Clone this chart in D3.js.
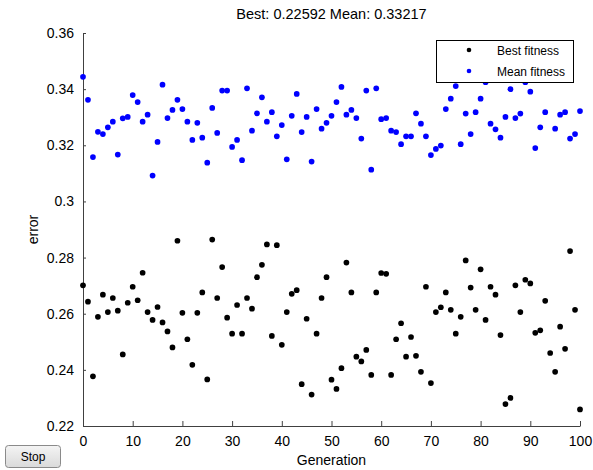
<!DOCTYPE html>
<html>
<head>
<meta charset="utf-8">
<script src="https://cdn.jsdelivr.net/npm/d3@7"></script>
<style>
  html, body { margin: 0; padding: 0; background: #ffffff; }
  svg { display: block; font-family: "Liberation Sans", Arial, sans-serif; }
</style>
</head>
<body>
<svg id="chart" width="593" height="470"></svg>
<script>
const generations = d3.range(0, 101);
const bestFitness = [
  0.2701, 0.2643, 0.2377, 0.2589, 0.2668, 0.2606, 0.2656, 0.2611, 0.2455, 0.2639,
  0.2696, 0.2648, 0.2746, 0.2606, 0.2578, 0.2624, 0.2569, 0.2537, 0.2480, 0.2860,
  0.2603, 0.2509, 0.2418, 0.2603, 0.2676, 0.2366, 0.2864, 0.2656, 0.2766, 0.2586,
  0.2529, 0.2631, 0.2529, 0.2656, 0.2618, 0.2730, 0.2774, 0.2847, 0.2521, 0.2844,
  0.2489, 0.2606, 0.2671, 0.2684, 0.2349, 0.2582, 0.2312, 0.2529, 0.2656, 0.2730,
  0.2365, 0.2332, 0.2406, 0.2782, 0.2676, 0.2447, 0.2430, 0.2471, 0.2382, 0.2676,
  0.2745, 0.2742, 0.2382, 0.2509, 0.2566, 0.2447, 0.2517, 0.2450, 0.2393, 0.2696,
  0.2353, 0.2606, 0.2623, 0.2676, 0.2614, 0.2529, 0.2589, 0.2790, 0.2693, 0.2614,
  0.2758, 0.2578, 0.2696, 0.2668, 0.2524, 0.2278, 0.2300, 0.2701, 0.2606, 0.2721,
  0.2708, 0.2532, 0.2541, 0.2646, 0.2460, 0.2393, 0.2554, 0.2475, 0.2823, 0.2614,
  0.22592
];
const meanFitness = [
  0.3444, 0.3362, 0.3158, 0.3248, 0.3240, 0.3264, 0.3284, 0.3167, 0.3296, 0.3301,
  0.3379, 0.3354, 0.3284, 0.3309, 0.3092, 0.3212, 0.3416, 0.3297, 0.3326, 0.3362,
  0.3329, 0.3284, 0.3219, 0.3280, 0.3227, 0.3138, 0.3333, 0.3244, 0.3395, 0.3395,
  0.3194, 0.3219, 0.3147, 0.3403, 0.3252, 0.3314, 0.3371, 0.3284, 0.3318, 0.3232,
  0.3272, 0.3150, 0.3305, 0.3383, 0.3247, 0.3301, 0.3142, 0.3329, 0.3259, 0.3280,
  0.3305, 0.3354, 0.3408, 0.3309, 0.3326, 0.3297, 0.3224, 0.3395, 0.3113, 0.3403,
  0.3293, 0.3297, 0.3252, 0.3247, 0.3204, 0.3232, 0.3232, 0.3314, 0.3277, 0.3232,
  0.3165, 0.3187, 0.3199, 0.3329, 0.3366, 0.3411, 0.3204, 0.3313, 0.3240, 0.3318,
  0.3366, 0.3425, 0.3277, 0.3257, 0.3227, 0.3301, 0.3400, 0.3297, 0.3313, 0.3425,
  0.3391, 0.3190, 0.3264, 0.3318, 0.3450, 0.3259, 0.3309, 0.3318, 0.3224, 0.3240,
  0.33217
];
const xTicks = [0, 10, 20, 30, 40, 50, 60, 70, 80, 90, 100];
const yTicks = [0.22, 0.24, 0.26, 0.28, 0.3, 0.32, 0.34, 0.36];
const yTickLabels = ["0.22", "0.24", "0.26", "0.28", "0.3", "0.32", "0.34", "0.36"];
const seriesNames = ["Best fitness", "Mean fitness"];
const seriesColors = ["#000000", "#0000ff"];
const titleText = "Best: 0.22592 Mean: 0.33217";
const xLabel = "Generation";
const yLabel = "error";
const buttonLabel = "Stop";

const svg = d3.select("#chart");
const m = { left: 83, right: 580, top: 33, bottom: 426 };
const x = d3.scaleLinear().domain([0, 100]).range([m.left, m.right]);
const y = d3.scaleLinear().domain([0.22, 0.36]).range([m.bottom, m.top]);
const axisColor = "#404040";

// X axis (ticks inside)
const xAxis = d3.axisBottom(x).tickValues(xTicks).tickSizeInner(-5).tickSizeOuter(0).tickPadding(10).tickFormat(d3.format("d"));
const gx = svg.append("g").attr("transform", `translate(0,${m.bottom})`).call(xAxis);
gx.select(".domain").attr("stroke", axisColor);
gx.selectAll(".tick line").attr("stroke", axisColor);
gx.selectAll(".tick text").attr("fill", "#000").style("font-size", "14px")
  .attr("font-family", "Liberation Sans, Arial, sans-serif");

// Y axis (ticks inside)
const yAxis = d3.axisLeft(y).tickValues(yTicks).tickSizeInner(-3).tickSizeOuter(0).tickPadding(9)
  .tickFormat((d, i) => yTickLabels[i]);
const gy = svg.append("g").attr("transform", `translate(${m.left},0)`).call(yAxis);
gy.select(".domain").attr("stroke", axisColor);
gy.selectAll(".tick line").attr("stroke", axisColor);
gy.selectAll(".tick text").attr("fill", "#000").style("font-size", "14px")
  .attr("font-family", "Liberation Sans, Arial, sans-serif");

// Points
const series = [bestFitness, meanFitness];
series.forEach((vals, si) => {
  svg.append("g").selectAll("circle")
    .data(vals)
    .join("circle")
    .attr("cx", (d, i) => x(generations[i]))
    .attr("cy", d => y(d))
    .attr("r", 2.85)
    .attr("fill", seriesColors[si]);
});

// Title
svg.append("text").attr("x", (m.left + m.right) / 2).attr("y", 19)
  .attr("text-anchor", "middle").style("font-size", "14.5px").text(titleText);

// Axis labels
svg.append("text").attr("x", (m.left + m.right) / 2).attr("y", 465)
  .attr("text-anchor", "middle").style("font-size", "14px").text(xLabel);
svg.append("text").attr("transform", `translate(38,${(m.top + m.bottom) / 2}) rotate(-90)`)
  .attr("text-anchor", "middle").style("font-size", "14px").text(yLabel);

// Legend
const lg = svg.append("g");
lg.append("rect").attr("x", 436.5).attr("y", 40.5).attr("width", 137).attr("height", 42)
  .attr("fill", "#ffffff").attr("stroke", "#000").attr("stroke-width", 1);
seriesNames.forEach((name, i) => {
  const cy = 50 + i * 21;
  lg.append("circle").attr("cx", 469).attr("cy", cy).attr("r", 2.3).attr("fill", seriesColors[i]);
  lg.append("text").attr("x", 497).attr("y", cy + 4.5).style("font-size", "12px").text(name);
});

// Stop button
const defs = svg.append("defs");
const grad = defs.append("linearGradient").attr("id", "btnGrad").attr("x1", 0).attr("y1", 0).attr("x2", 0).attr("y2", 1);
grad.append("stop").attr("offset", "0%").attr("stop-color", "#f4f4f4");
grad.append("stop").attr("offset", "100%").attr("stop-color", "#dadada");
svg.append("rect").attr("x", 5.5).attr("y", 445.5).attr("width", 55).attr("height", 22).attr("rx", 3)
  .attr("fill", "url(#btnGrad)").attr("stroke", "#8a8a8a");
svg.append("text").attr("x", 33).attr("y", 461).attr("text-anchor", "middle").style("font-size", "12px").text(buttonLabel);
</script>
</body>
</html>
